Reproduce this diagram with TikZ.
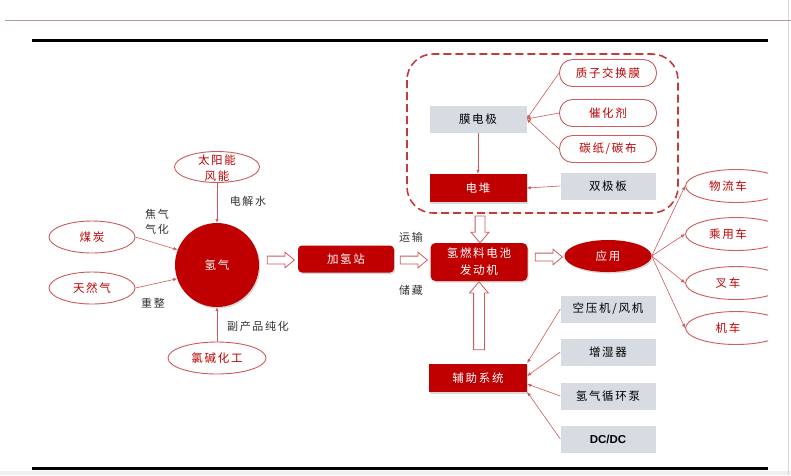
\documentclass[tikz,border=0pt]{standalone}
\usepackage{fontspec}
\newfontfamily\cjk[LetterSpace=15]{Noto Sans CJK SC}
\newfontfamily\latf{Liberation Sans}
\usetikzlibrary{shapes.geometric,shapes.arrows,shadows,arrows.meta,calc}
\definecolor{dred}{HTML}{C00000}
\definecolor{lred}{HTML}{D05A5C}
\definecolor{dashc}{HTML}{C43B3B}
\definecolor{gbox}{HTML}{D7DCE3}
\definecolor{txt}{HTML}{333333}
\definecolor{topl}{HTML}{B89A94}
\begin{document}
\begin{tikzpicture}[x=1pt,y=-1pt,
  lab/.style={font=\cjk\fontsize{11}{15}\selectfont, text=txt, inner sep=0pt, align=center},
  oval/.style={ellipse, draw=lred, line width=0.9pt, fill=white, text=dred, inner sep=0pt,
    minimum width=86pt, minimum height=32pt, font=\cjk\fontsize{11.5}{16}\selectfont},
  redbox/.style={rectangle, fill=dred, text=white, inner sep=0pt, minimum width=97pt,
    minimum height=27pt, font=\cjk\fontsize{11.5}{17}\selectfont, align=center,
    drop shadow={opacity=0.3, shadow xshift=1.2pt, shadow yshift=-1.5pt}},
  graybox/.style={rectangle, fill=gbox, text=black, inner sep=0pt, minimum width=95pt,
    minimum height=27pt, font=\cjk\fontsize{11.5}{16}\selectfont},
  pill/.style={rectangle, rounded corners=13pt, draw=lred, line width=0.9pt, fill=white,
    text=dred, inner sep=0pt, minimum width=97pt, minimum height=27pt,
    font=\cjk\fontsize{11.5}{16}\selectfont},
  conn/.style={draw=lred, line width=0.6pt, -{Latex[length=4pt,width=3.5pt]}},
  harrow/.style={single arrow, draw=lred, line width=0.8pt, fill=white, inner xsep=0pt,
    single arrow head extend=4pt, single arrow tip angle=80},
]
\useasboundingbox (0,0) rectangle (791,475);
\fill[white] (0,0) rectangle (791,475);
\fill[black!6] (0,471) rectangle (791,475);
\draw[black!15, line width=0.8pt] (788,0) -- (788,475);

% rules
\draw[topl, line width=1pt] (5,20) -- (791,20);
\draw[black, line width=3pt] (32,40) -- (768,40);
\draw[black, line width=3pt] (32,468) -- (768,468);

% hydrogen sources
\node[circle, fill=dred, minimum size=84pt, inner sep=0pt, text=white,
  font=\cjk\fontsize{11.5}{16}\selectfont,
  drop shadow={opacity=0.3, shadow xshift=1.2pt, shadow yshift=-1.5pt}] (h2) at (217,265) {氢气};
\node[oval, minimum width=85pt, minimum height=31pt] (sun) at (217,167) {};
\node[lab, text=dred, font=\cjk\fontsize{11.5}{16}\selectfont] (sunt) at (217,168) {太阳能\\风能};
\node[oval] (coal) at (92,237) {煤炭};
\node[oval] (gas) at (92,288) {天然气};
\node[oval, minimum width=98pt] (chlor) at (217,358) {氯碱化工};

\draw[conn] (sun.south) -- (h2.north);
\draw[conn] (coal.east) -- (h2.159);
\draw[conn] (gas.east) -- (h2.199);
\draw[conn] (chlor.north) -- (h2.south);

\node[lab] (l1) at (248,201) {电解水};
\node[lab] (l2) at (157,222) {焦气\\气化};
\node[lab] (l3) at (153,303) {重整};
\node[lab] (l4) at (258,326) {副产品纯化};

% station
\node[redbox, rounded corners=4pt, minimum width=96pt] (station) at (346,259) {加氢站};
\node[redbox, rounded corners=5pt, minimum height=38pt] (engine) at (479,262) {氢燃料电池\\发动机};

\node[harrow, inner ysep=3.5pt, minimum height=27pt] (a1) at (278.5,260) {};
\node[harrow, inner ysep=3.5pt, minimum height=27pt] (a2) at (411.5,260) {};
\node[lab] (l5) at (411,237) {运输};
\node[lab] (l6) at (411,290) {储藏};

% fuel cell frame
\draw[dashc, line width=1.6pt, dash pattern=on 8pt off 4pt, rounded corners=26pt]
  (407,54) rectangle (678,213);
\node[graybox, minimum width=97pt] (mea) at (478,119) {膜电极};
\node[redbox, rectangle, minimum width=97pt, minimum height=28pt, drop shadow={opacity=0}] (stack) at (478,188) {电堆};
\node[graybox] (bip) at (608,186) {双极板};
\node[pill] (pem) at (608,73) {质子交换膜};
\node[pill] (cat) at (608,113) {催化剂};
\node[pill] (carb) at (608,149) {碳纸/碳布};

\draw[conn] (mea.south) -- (stack.north);
\draw[conn] (bip.west) -- (stack.east);
\draw[conn] (pem.west) -- (mea.east);
\draw[conn] (cat.west) -- (mea.east);
\draw[conn] (carb.west) -- (mea.east);

\node[harrow, inner ysep=4.5pt, minimum height=27pt, rotate=-90] (a3) at (480,226.5) {};

% application
\node[harrow, inner ysep=3.5pt, minimum height=27pt] (a4) at (546.5,257) {};
\node[ellipse, fill=dred, text=white, inner sep=0pt, minimum width=87pt, minimum height=32pt,
  font=\cjk\fontsize{11.5}{16}\selectfont,
  drop shadow={opacity=0.3, shadow xshift=1.2pt, shadow yshift=-1.5pt}] (app) at (608,256) {应用};

\begin{scope}
\clip (0,0) rectangle (768,475);
\node[oval, minimum width=101pt, minimum height=33pt] (v1) at (736,186) {物流车\hspace*{16pt}};
\node[oval, minimum width=101pt, minimum height=33pt] (v2) at (736,234) {乘用车\hspace*{16pt}};
\node[oval, minimum width=101pt, minimum height=33pt] (v3) at (736,283) {叉车\hspace*{16pt}};
\node[oval, minimum width=101pt, minimum height=33pt] (v4) at (736,328) {机车\hspace*{16pt}};
\end{scope}
\draw[conn] (app.east) -- (v1.west);
\draw[conn] (app.east) -- (v2.west);
\draw[conn] (app.east) -- (v3.west);
\draw[conn] (app.east) -- (v4.west);

% auxiliary system
\node[redbox, rectangle, minimum width=98pt, minimum height=28pt, drop shadow={opacity=0}] (aux) at (478,378) {辅助系统};
\node[harrow, inner ysep=5pt, minimum height=68pt, rotate=90] (a5) at (479,319) {};
\node[graybox] (b1) at (608,309) {空压机/风机};
\node[graybox] (b2) at (608,352) {增湿器};
\node[graybox] (b3) at (608,396) {氢气循环泵};
\node[graybox, font=\latf\bfseries\fontsize{11.5}{14}\selectfont] (b4) at (608,439) {DC/DC};

\draw[conn] (b1.west) -- ($(aux.east)+(0,-15)$);
\draw[conn] (b2.west) -- ($(aux.east)+(0,-2)$);
\draw[conn] (b3.west) -- ($(aux.east)+(0,6)$);
\draw[conn] (b4.west) -- ($(aux.east)+(0,14)$);
\end{tikzpicture}
\end{document}
